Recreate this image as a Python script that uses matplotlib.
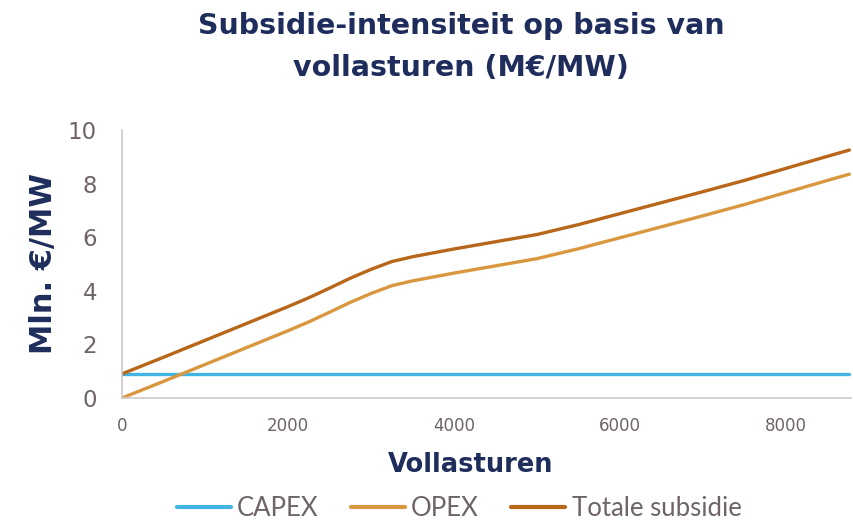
import numpy as np
import matplotlib
matplotlib.use("Agg")
import matplotlib.pyplot as plt

# ----------------------------
# Data
# ----------------------------
vollasturen = [0, 500, 1000, 1500, 2000, 2250, 2500, 2750, 3000, 3250, 3500,
               4000, 4500, 5000, 5500, 6000, 6500, 7000, 7500, 8000, 8500, 8760]
capex = [0.9] * len(vollasturen)
opex = [0.0, 0.62, 1.25, 1.88, 2.51, 2.84, 3.2, 3.57, 3.9, 4.19, 4.37,
        4.66, 4.93, 5.2, 5.57, 5.98, 6.39, 6.8, 7.22, 7.67, 8.12, 8.35]
totaal = [c + o for c, o in zip(capex, opex)]

x_ticks = [0, 2000, 4000, 6000, 8000]
y_ticks = [0, 2, 4, 6, 8, 10]

navy = "#1F2D5C"
grey_txt = "#6E6468"

# ----------------------------
# Plot
# ----------------------------
fig = plt.figure(figsize=(8.54, 5.24), dpi=100)
ax = fig.add_axes([0.1429, 0.2405, 0.8536, 0.5115])

ax.plot(vollasturen, capex, color="#41B4E4", lw=2.4, label="CAPEX", solid_capstyle="round")
ax.plot(vollasturen, opex, color="#D9973F", lw=2.4, label="OPEX", solid_capstyle="round")
ax.plot(vollasturen, totaal, color="#B8661A", lw=2.4, label="Totale subsidie", solid_capstyle="round")

ax.set_xlim(0, 8780)
ax.set_ylim(0, 10)
ax.set_xticks(x_ticks)
ax.set_yticks(y_ticks)
ax.tick_params(axis="both", length=0, colors=grey_txt)
ax.tick_params(axis="y", labelsize=16.5, pad=18)
ax.tick_params(axis="x", labelsize=12, pad=14)

for side in ["top", "right"]:
    ax.spines[side].set_visible(False)
for side in ["left", "bottom"]:
    ax.spines[side].set_color("#CCC8CA")
    ax.spines[side].set_linewidth(1.2)

# axis titles placed in figure coords
fig.text(471 / 854, 1 - 465 / 524, "Vollasturen", fontsize=18.5, fontweight="bold",
         color=navy, ha="center", va="center")
fig.text(44 / 854, 1 - 264 / 524, "Mln. €/MW", fontsize=22, fontweight="bold",
         color=navy, ha="center", va="center", rotation=90)

fig.text(0.54, 1 - 26 / 524, "Subsidie-intensiteit op basis van", fontsize=20.5,
         fontweight="bold", color=navy, ha="center", va="center")
fig.text(0.54, 1 - 68 / 524, "vollasturen (M€/MW)", fontsize=20.5,
         fontweight="bold", color=navy, ha="center", va="center")

leg = fig.legend(loc="center", bbox_to_anchor=(459 / 854, 1 - 508 / 524), ncol=3,
                 frameon=False, handlelength=2.1, handletextpad=0.25,
                 columnspacing=1.25, borderpad=0.2,
                 prop={"family": "Lato", "size": 18.5})
for t in leg.get_texts():
    t.set_color(grey_txt)
for h in leg.get_lines():
    h.set_linewidth(3)
    h.set_solid_capstyle("round")

fig.savefig("out.png", dpi=100)
